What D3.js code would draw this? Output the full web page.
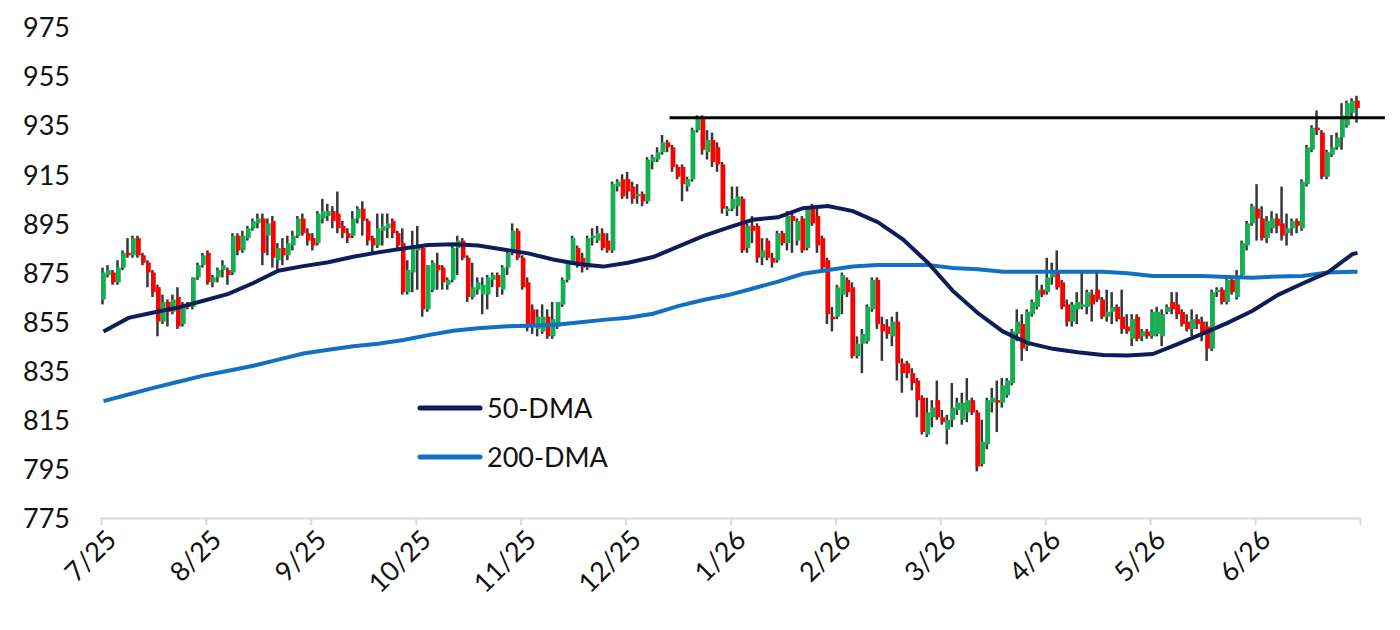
<!DOCTYPE html>
<html>
<head>
<meta charset="utf-8">
<title>Candles with 50/200-DMA</title>
<script src="https://d3js.org/d3.v7.min.js"></script>
<style>
  body { margin: 0; background: #fff; }
  svg text { font-family: Lato, "Open Sans", sans-serif; fill: #111; }
  .xaxis .domain, .xaxis line { stroke: #d9d9d9; stroke-width: 2; }
  .yaxis .domain, .yaxis line { display: none; }
</style>
</head>
<body>
<svg id="chart" width="1400" height="630"></svg>
<script>
// ---- data ----
const monthLabels = ["7/25","8/25","9/25","10/25","11/25","12/25","1/26","2/26","3/26","4/26","5/26","6/26"];
const daysPerTick = 21;
const yTicks = [775, 795, 815, 835, 855, 875, 895, 915, 935, 955, 975];

const opens = [
  864,874,875,871,877,883,882,889,882,879,875,869,855,863,859,865,854,862,861,873,878,
  883,871,873,876,876,875,890,884,889,893,895,897,890,896,880,885,882,886,890,897,891,
  889,887,897,898,900,899,894,891,890,897,901,896,889,886,892,893,896,891,887,867,875,
  884,885,860,868,878,877,870,872,885,888,881,865,868,866,866,872,874,868,877,883,892,
  881,871,860,852,851,857,849,853,862,872,879,885,881,877,889,888,891,888,884,910,913,
  913,910,906,907,904,920,921,924,928,926,918,918,910,913,933,938,924,929,926,919,900,
  901,902,905,885,894,894,881,888,881,880,891,887,898,888,897,885,902,898,889,880,857,
  857,866,872,869,841,846,847,860,872,854,853,849,855,838,838,834,831,824,809,816,823,
  816,811,815,819,815,818,823,818,797,805,822,823,822,825,830,850,854,845,858,861,868,
  867,873,876,871,862,855,860,861,861,866,868,864,857,859,861,857,853,848,857,849,851,
  849,850,849,859,863,862,859,855,852,856,855,853,844,867,868,863,872,865,874,886,895,
  901,897,889,893,897,895,891,893,896,893,911,925,934,932,914,923,926,930,935,940,945
];
const highs = [
  877,878,876,880,884,889,890,890,883,880,876,870,866,864,866,869,863,863,873,879,883,
  884,874,877,880,877,891,891,892,894,897,899,899,897,898,887,889,890,892,898,899,893,
  891,900,905,903,902,908,896,893,900,902,904,897,890,899,899,899,897,892,893,880,892,
  894,886,878,880,883,878,873,886,890,889,882,879,873,873,874,875,875,878,884,895,893,
  882,873,862,860,862,860,863,863,873,880,890,886,883,890,893,894,893,891,912,913,915,
  916,912,911,908,922,923,926,931,929,927,919,919,914,934,939,939,933,932,928,920,902,
  910,910,906,895,898,895,889,889,883,892,892,900,900,897,898,902,903,902,890,881,861,
  870,875,873,871,849,852,862,873,873,857,856,857,859,840,839,836,832,825,824,823,831,
  819,817,830,824,826,832,824,819,815,824,828,831,832,832,852,860,858,860,864,874,870,
  881,879,884,872,864,863,867,875,868,868,875,865,868,867,862,868,858,858,858,852,852,
  860,861,860,862,867,867,860,858,860,858,857,855,868,869,869,874,873,876,888,896,903,
  911,902,898,900,899,910,899,897,897,913,927,935,941,933,925,931,932,944,945,946,947
];
const lows = [
  862,873,870,870,876,881,881,881,878,869,865,849,854,853,858,852,853,860,860,872,877,
  870,869,871,873,870,874,882,883,888,892,893,878,882,877,876,878,880,884,889,890,886,
  884,886,895,896,893,891,889,887,889,895,890,886,883,885,886,889,889,885,866,866,867,
  868,857,859,867,868,868,868,871,874,880,863,864,866,858,860,869,865,866,874,882,880,
  868,851,850,849,850,848,848,852,861,871,878,877,875,876,886,887,884,883,883,908,905,
  905,903,903,902,903,917,920,923,924,916,913,904,908,912,932,923,921,918,916,899,898,
  900,898,883,883,887,879,878,880,877,879,886,884,883,886,883,884,894,883,876,854,851,
  856,858,865,840,840,834,846,859,852,839,848,845,831,826,832,827,816,809,808,812,815,
  813,805,812,817,813,814,817,794,796,803,818,810,820,824,829,847,839,843,857,860,865,
  866,870,868,860,853,853,854,860,858,855,863,856,855,854,855,850,850,845,847,847,848,
  848,849,845,858,858,856,853,851,849,852,847,839,843,865,862,862,866,864,873,884,894,
  888,888,887,891,891,888,886,890,891,892,910,924,931,913,913,922,925,925,934,938,936
];
const closes = [
  875,876,871,877,883,882,889,882,879,875,867,855,863,859,864,853,862,861,873,878,882,
  871,873,876,878,874,890,884,890,893,896,897,883,895,881,885,882,887,890,897,891,888,
  886,899,900,900,896,893,891,889,897,901,896,888,886,893,894,895,891,886,867,876,886,
  886,860,878,879,876,871,872,885,888,881,865,869,871,870,873,874,869,877,883,892,881,
  869,853,853,857,857,849,856,863,872,879,889,878,877,889,890,891,885,884,911,912,906,
  908,905,907,904,921,922,924,928,926,918,914,911,913,933,938,925,929,920,919,901,901,
  905,906,884,894,892,881,884,881,879,891,887,898,896,896,884,901,895,886,877,858,856,
  869,874,867,841,846,850,861,872,854,851,850,855,838,834,834,830,823,810,818,820,816,
  814,815,820,822,822,823,818,796,806,823,824,822,829,831,851,855,844,859,863,868,866,
  873,876,869,861,855,862,863,862,867,862,864,857,859,861,856,852,851,856,848,851,849,
  859,859,858,861,860,858,854,852,856,854,850,844,867,868,863,872,867,873,887,895,902,
  897,889,896,897,894,890,893,896,894,912,926,934,933,914,924,926,930,939,944,945,942
];

// moving averages, sampled every 5 trading days (last point = last day)
const maDays = [0,5,10,15,20,25,30,35,40,45,50,55,60,65,70,75,80,85,90,95,100,105,110,115,120,125,
  130,135,140,145,150,155,160,165,170,175,180,185,190,195,200,205,210,215,220,225,230,235,240,245,250,251];
const dma50 = [851,856.5,858.7,860.8,863.5,866.3,870.7,875.7,877.6,879.2,881.4,883.2,884.8,886.2,886.5,886,
  884.4,882.8,880.3,878.5,877.4,879,881.3,885.5,889.8,893.3,896.5,897.5,901.2,902.1,900,895.5,888.5,879,
  867.5,858.5,851,846.3,843.9,842.5,841.4,841.2,841.8,845.8,850.1,854.5,859.4,865.8,870.5,875,882.5,883];
const dma200 = [822.6,825.3,828,830.5,833,835,837,839.5,842,843.5,845,846,847.5,849.5,851.3,852.3,853,853.3,
  853.6,854.6,855.7,856.6,858.2,861.3,863.8,865.8,868.5,871.3,874.5,876,877.4,878.1,878.1,878.1,876.8,876.3,
  875.3,875.3,875.3,875.3,875.3,874.7,873.6,873.6,873.6,873.2,872.9,873.4,873.6,875,875.3,875.3];

const resistanceLevel = 938;
const resistanceFrom = 113.8, resistanceTo = 257;

const legendItems = ["50-DMA", "200-DMA"];

// ---- drawing ----
const svg = d3.select("#chart");
svg.append("rect").attr("width", 1400).attr("height", 630).attr("fill", "#fff");

const nDays = monthLabels.length * daysPerTick;
const x = d3.scaleLinear().domain([0, nDays]).range([101, 1360]);
const y = d3.scaleLinear().domain([775, 975]).range([518, 27]);

// y axis labels only
svg.append("g")
  .attr("class", "yaxis")
  .attr("transform", "translate(70,0)")
  .call(d3.axisLeft(y).tickValues(yTicks).tickSize(0).tickPadding(0))
  .selectAll("text")
  .style("font-size", "27px")
  .attr("dy", "0.36em");

// x axis
const xAxis = svg.append("g")
  .attr("class", "xaxis")
  .attr("transform", "translate(0,518)")
  .call(d3.axisBottom(x)
    .tickValues(d3.range(0, nDays + 1, daysPerTick))
    .tickSizeInner(7).tickSizeOuter(0)
    .tickFormat((d, i) => monthLabels[i] || ""));
xAxis.selectAll("text")
  .style("font-size", "27px")
  .attr("text-anchor", "end")
  .attr("x", 0).attr("y", 0).attr("dy", "0.35em")
  .attr("transform", "translate(10,17) rotate(-45)");

const candles = d3.range(opens.length).map(i => ({
  i: i, o: opens[i], h: highs[i], l: lows[i], c: closes[i]
}));

const plot = svg.append("g");

// wicks
plot.selectAll("line.wick")
  .data(candles)
  .join("line")
  .attr("class", "wick")
  .attr("x1", d => x(d.i + 0.5) - 1)
  .attr("x2", d => x(d.i + 0.5) - 1)
  .attr("y1", d => y(d.h))
  .attr("y2", d => y(d.l))
  .attr("stroke", "#383838")
  .attr("stroke-width", 2.5);

// bodies
plot.selectAll("rect.body")
  .data(candles)
  .join("rect")
  .attr("class", "body")
  .attr("x", d => x(d.i + 0.5) - 2.3)
  .attr("width", 4.6)
  .attr("y", d => y(Math.max(d.o, d.c)))
  .attr("height", d => Math.max(2, Math.abs(y(d.o) - y(d.c))))
  .attr("fill", d => d.c > d.o ? "#12b050" : "#ff0000");

// moving averages
const maLine = vals => d3.line()
  .x((d, k) => x(maDays[k] + 0.5))
  .y(d => y(d))(vals);

plot.append("path")
  .attr("d", maLine(dma200))
  .attr("fill", "none")
  .attr("stroke", "#1270c2")
  .attr("stroke-width", 4);

plot.append("path")
  .attr("d", maLine(dma50))
  .attr("fill", "none")
  .attr("stroke", "#0c1d5a")
  .attr("stroke-width", 4);

// resistance line
svg.append("line")
  .attr("x1", x(resistanceFrom)).attr("x2", x(resistanceTo))
  .attr("y1", y(resistanceLevel)).attr("y2", y(resistanceLevel))
  .attr("stroke", "#000")
  .attr("stroke-width", 3);

// legend
const legendColors = ["#0c1d5a", "#1270c2"];
const legend = svg.append("g").attr("transform", "translate(420,408)");
legendItems.forEach((name, k) => {
  const row = legend.append("g").attr("transform", "translate(0," + (k * 49) + ")");
  row.append("line")
    .attr("x1", 0).attr("x2", 60)
    .attr("stroke", legendColors[k])
    .attr("stroke-width", 5)
    .attr("stroke-linecap", "round");
  row.append("text")
    .attr("x", 67).attr("dy", "0.36em")
    .style("font-size", "27px")
    .text(name);
});
</script>
</body>
</html>
